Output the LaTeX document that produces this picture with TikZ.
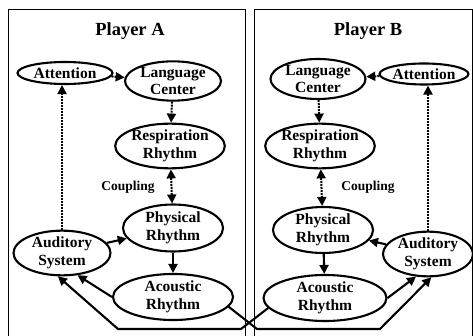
\documentclass[tikz,border=0pt]{standalone}
\usepackage{fontspec}
\setmainfont{Liberation Serif}
\usetikzlibrary{shapes.geometric,arrows.meta}
\begin{document}
\begin{tikzpicture}[x=1pt,y=-1pt,
  ell/.style={draw, ellipse, line width=2.1pt, inner sep=0pt, align=center,
    font=\bfseries\fontsize{15.5}{17.5}\selectfont},
  title/.style={font=\bfseries\fontsize{18.5}{20}\selectfont},
  lbl/.style={font=\bfseries\fontsize{13.5}{15}\selectfont},
  frame/.style={line width=1pt},
  solidarr/.style={line width=2.1pt, -{Triangle[length=9pt,width=9pt]}},
  dotarr/.style={line width=2pt, densely dotted, -{Triangle[length=9pt,width=9pt]}},
  dotboth/.style={line width=2pt, densely dotted, {Triangle[length=9pt,width=9pt]}-{Triangle[length=9pt,width=9pt]}}
]
\useasboundingbox (0,0) rectangle (473,336);
\fill[white] (0,0) rectangle (473,336);
% frames
\draw[frame] (8,336) -- (8,10) -- (245,10) -- (245,336);
\draw[frame] (254,336) -- (254,10) -- (472,10) -- (472,336);
\node[title] (tA) at (130,31) {Player A};
\node[title] (tB) at (368,31) {Player B};

% Player A
\node[ell, minimum width=95pt, minimum height=22pt] (attA) at (65,73) {Attention};
\node[ell, minimum width=96pt, minimum height=37pt] (lanA) at (173,81) {Language\\Center};
\node[ell, minimum width=104pt, minimum height=40pt] (resA) at (170,146) {Respiration\\Rhythm};
\node[lbl] (coupA) at (128,187) {Coupling};
\node[ell, minimum width=100pt, minimum height=47pt] (phyA) at (173,228) {Physical\\Rhythm};
\node[ell, minimum width=97pt, minimum height=44pt] (audA) at (62,253) {Auditory\\System};
\node[ell, minimum width=120pt, minimum height=46pt] (acoA) at (173,297) {Acoustic\\Rhythm};

% Player B
\node[ell, minimum width=82pt, minimum height=21pt] (attB) at (424,74) {Attention};
\node[ell, minimum width=95pt, minimum height=40pt] (lanB) at (318,79) {Language\\Center};
\node[ell, minimum width=100pt, minimum height=40pt] (resB) at (320,146) {Respiration\\Rhythm};
\node[lbl] (coupB) at (368,187) {Coupling};
\node[ell, minimum width=100pt, minimum height=46pt] (phyB) at (323,230) {Physical\\Rhythm};
\node[ell, minimum width=90pt, minimum height=43pt] (audB) at (428,254) {Auditory\\System};
\node[ell, minimum width=123pt, minimum height=46pt] (acoB) at (325,298) {Acoustic\\Rhythm};

% bends of the cross paths
\coordinate (bA1) at (257,329);
\coordinate (bA2) at (380,329);
\coordinate (bB1) at (241,329);
\coordinate (bB2) at (118,329);

% edges A
\draw[dotarr] (attA) -- (lanA);
\draw[dotarr] (lanA) -- (resA);
\draw[dotboth] (resA) -- (phyA);
\draw[solidarr] (audA) -- (phyA);
\draw[solidarr] (phyA) -- (acoA);
\draw[solidarr] (acoA.west) -- (audA.-55);
\draw[dotarr] (audA.north) -- (audA.north |- attA.south);

% edges B
\draw[dotarr] (attB) -- (lanB);
\draw[dotarr] (lanB) -- (resB);
\draw[dotboth] (resB) -- (phyB);
\draw[solidarr] (audB) -- (phyB);
\draw[solidarr] (phyB) -- (acoB);
\draw[solidarr] (acoB.east) -- (audB.-118);
\draw[dotarr] (audB.north) -- (audB.north |- attB.south);

% crossing paths
\draw[solidarr, line join=miter] (acoA.-10) -- (bA1) -- (bA2) -- (audB.-82);
\draw[solidarr, line join=miter] (acoB.190) -- (bB1) -- (bB2) -- (audA.-100);
\end{tikzpicture}
\end{document}
